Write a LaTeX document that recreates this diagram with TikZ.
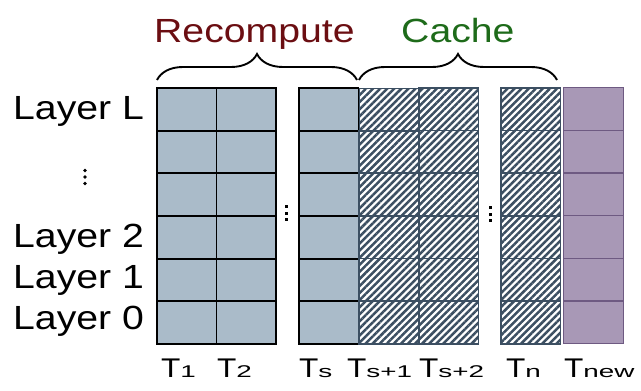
\documentclass[tikz,border=0pt]{standalone}
\usepackage{fontspec}
\usepackage{graphicx}
\setmainfont[FakeStretch=1.17]{Liberation Sans}
\usetikzlibrary{patterns.meta,decorations.pathreplacing}
\definecolor{cellgray}{HTML}{AABBC9}
\definecolor{hatchc}{HTML}{3C4F62}
\definecolor{purfill}{HTML}{A898B6}
\definecolor{purline}{HTML}{6E5A82}
\definecolor{recred}{HTML}{6B0E12}
\definecolor{cachegreen}{HTML}{1E6B1A}
\newcommand{\mysub}[1]{\scalebox{1.4}[1]{\fontsize{17}{20}\selectfont #1}}
\begin{document}
\begin{tikzpicture}[x=1pt,y=-1pt,
  cellbase/.style={rectangle,inner sep=0pt,minimum width=59.5pt,minimum height=42.67pt,anchor=north west},
  graycell/.style={cellbase,draw=black,line width=1.9pt,fill=cellgray},
  hatchcell/.style={cellbase,draw=hatchc,line width=1.5pt,pattern={Lines[angle=45,distance=5pt,line width=2.5pt]},pattern color=hatchc},
  purcell/.style={cellbase,draw=purline,line width=1.4pt,fill=purfill},
  layerlab/.style={anchor=base west,inner sep=0pt,font=\fontsize{33.5}{40}\selectfont},
  toplab/.style={anchor=base west,inner sep=0pt,font=\fontsize{33.5}{40}\selectfont},
  tlab/.style={anchor=base west,inner sep=0pt,font=\fontsize{27}{30}\selectfont},
  bracestyle/.style={decorate,decoration={brace,amplitude=26pt},line width=1.9pt}]
\useasboundingbox (0,0) rectangle (641,391);

% cells
\foreach \r in {1,...,6}{
  \pgfmathsetmacro{\yy}{87+42.67*(\r-1)}
  \node[graycell] (a-\r) at (156,\yy) {};
  \node[graycell] (b-\r) at (215.5,\yy) {};
  \node[graycell] (s-\r) at (298,\yy) {};
  \node[hatchcell] (p-\r) at (358,\yy) {};
  \node[hatchcell] (q-\r) at (418,\yy) {};
  \node[hatchcell] (n-\r) at (500,\yy) {};
  \node[purcell] (w-\r) at (563,\yy) {};
}

% ellipsis dots
\foreach \yy in {205,211.5,218}{
  \fill[black] (284.5,\yy) rectangle ++(3.4,3.4);
  \fill[black] (488.5,\yy+1) rectangle ++(3.4,3.4);
}
\foreach \yy in {170.5,177,183.5}
  \fill[black] (85,\yy) circle (1.9);

% braces
\coordinate (br1s) at (157,80);
\coordinate (br1e) at (357,80);
\coordinate (br2s) at (359,80);
\coordinate (br2e) at (557,80);
\draw[bracestyle] (br1s) -- (br1e);
\draw[bracestyle] (br2s) -- (br2e);

% top labels
\node[toplab,text=recred] (recomp) at (154,42) {Recompute};
\node[toplab,text=cachegreen] (cache) at (401,42) {Cache};

% layer labels
\node[layerlab] (lL) at (13,119) {Layer L};
\node[layerlab] (l2) at (13,247) {Layer 2};
\node[layerlab] (l1) at (13,288) {Layer 1};
\node[layerlab] (l0) at (13,329) {Layer 0};

% token labels
\node[tlab] (t1) at (161,377) {T\mysub{1}};
\node[tlab] (t2) at (217,377) {T\mysub{2}};
\node[tlab] (ts) at (299,377) {T\mysub{s}};
\node[tlab] (ts1) at (347,377) {T\mysub{s+1}};
\node[tlab] (ts2) at (419,377) {T\mysub{s+2}};
\node[tlab] (tn) at (506,377) {T\mysub{n}};
\node[tlab] (tnew) at (564,377) {T\mysub{new}};
\end{tikzpicture}
\end{document}
